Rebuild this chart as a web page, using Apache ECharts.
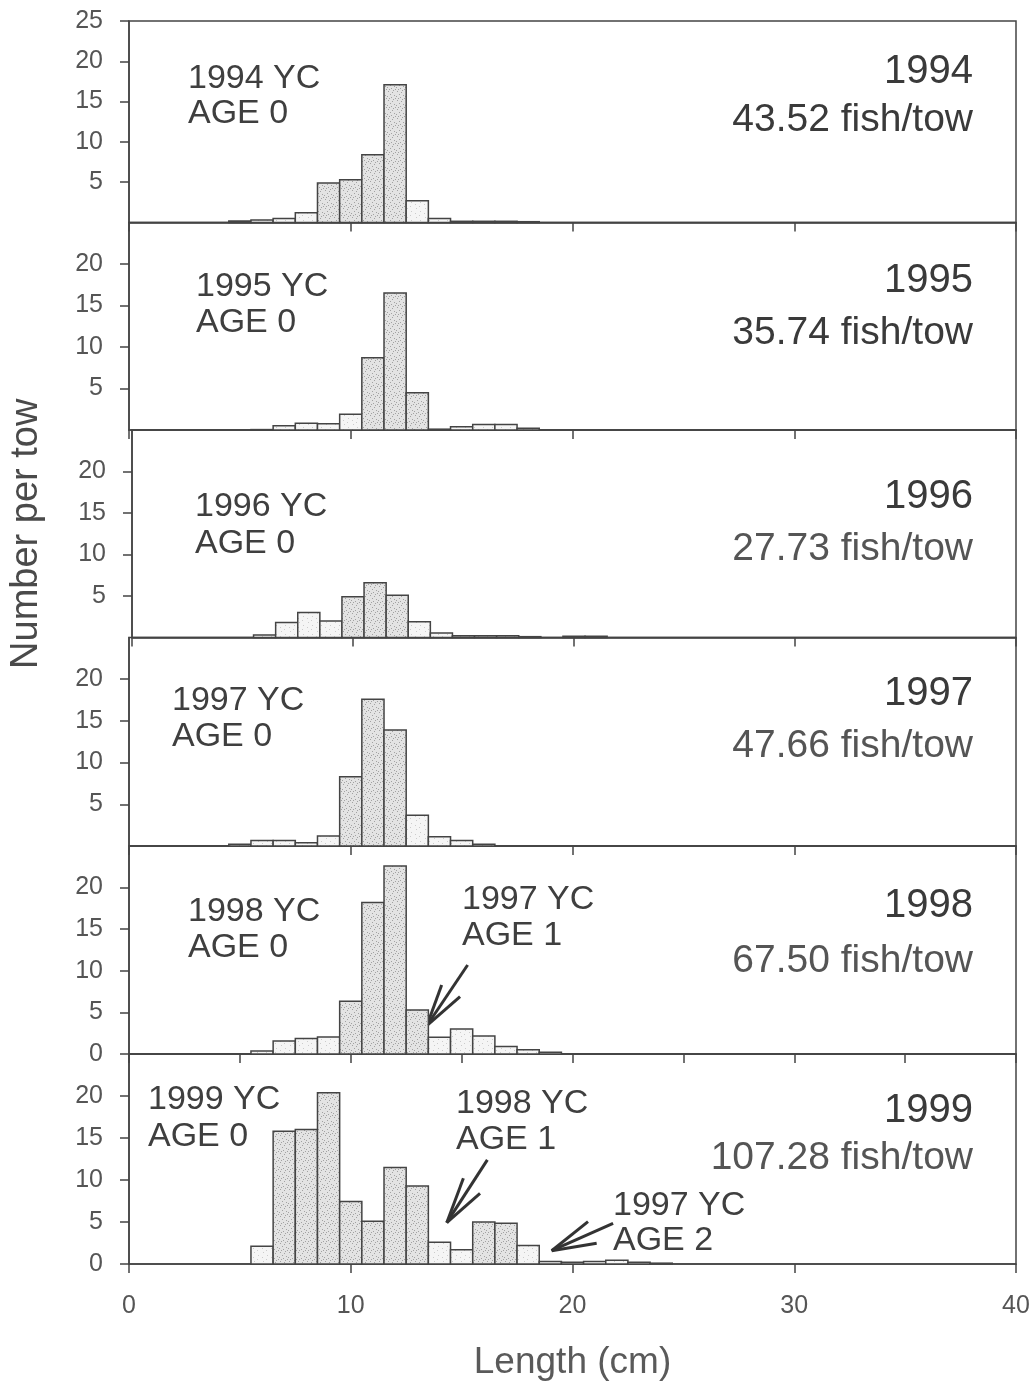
<!DOCTYPE html>
<html><head><meta charset="utf-8">
<script src="https://cdn.jsdelivr.net/npm/echarts@6/dist/echarts.min.js"></script>
<style>html,body{margin:0;padding:0;background:#fff}#c{width:1034px;height:1382px}</style>
</head><body><div id="c"></div>
<script>
// ---------------- DATA ----------------
const lengthBins = [5,6,7,8,9,10,11,12,13,14,15,16,17,18,19,20,21,22,23,24];
const years = ['1994','1995','1996','1997','1998','1999'];
const fishPerTow = ['43.52','35.74','27.73','47.66','67.50','107.28'];
const counts1994 = [0.2,0.3,0.5,1.2,4.9,5.3,8.4,17.1,2.7,0.5,0.15,0.15,0.15,0.1,0,0,0,0,0,0];
const counts1995 = [0,0.05,0.5,0.8,0.75,1.9,8.7,16.5,4.5,0.1,0.4,0.65,0.65,0.2,0,0,0,0,0,0];
const counts1996 = [0,0.3,1.8,3.0,2.0,4.9,6.6,5.1,1.9,0.55,0.2,0.2,0.2,0.1,0,0.15,0.15,0,0,0];
const counts1997 = [0.2,0.65,0.65,0.4,1.2,8.3,17.6,13.9,3.7,1.1,0.65,0.2,0,0,0,0,0,0,0,0];
const counts1998 = [0,0.35,1.55,1.85,2.05,6.35,18.2,22.6,5.3,2.0,3.0,2.15,0.9,0.5,0.2,0,0,0,0,0];
const counts1999 = [0,2.1,15.8,16.0,20.4,7.45,5.1,11.5,9.3,2.6,1.7,5.0,4.85,2.2,0.3,0.2,0.3,0.45,0.2,0.1];
const yTicks1994 = [5,10,15,20,25];
const yTicks1995 = [5,10,15,20];
const yTicks1996 = [5,10,15,20];
const yTicks1997 = [5,10,15,20];
const yTicks1998 = [0,5,10,15,20];
const yTicks1999 = [0,5,10,15,20];
const xTickLabels = [0,10,20,30,40];
const cohortText1994 = ['1994 YC','AGE 0'];
const cohortText1995 = ['1995 YC','AGE 0'];
const cohortText1996 = ['1996 YC','AGE 0'];
const cohortText1997 = ['1997 YC','AGE 0'];
const cohortText1998 = ['1998 YC','AGE 0'];
const cohortText1998b = ['1997 YC','AGE 1'];
const cohortText1999 = ['1999 YC','AGE 0'];
const cohortText1999b = ['1998 YC','AGE 1'];
const cohortText1999c = ['1997 YC','AGE 2'];

// ---------------- LAYOUT / STYLE ----------------
const allCounts = [counts1994,counts1995,counts1996,counts1997,counts1998,counts1999];
const allTicks = [yTicks1994,yTicks1995,yTicks1996,yTicks1997,yTicks1998,yTicks1999];
const tops = [21,222.5,430,637.5,846,1054];
const bottoms = [222.5,430,637.5,846,1054,1264];
const LEFT = 129, WIDTH = 887;
const FONT = '"Liberation Sans", Arial, sans-serif';
const INK = '#3f3f3f';

function makePattern(base, dot, dots) {
  const c = document.createElement('canvas');
  c.width = 9; c.height = 9;
  const g = c.getContext('2d');
  g.fillStyle = base; g.fillRect(0,0,9,9);
  g.fillStyle = dot;
  dots.forEach(function(d){ g.fillRect(d[0], d[1], 1, 1); });
  return {image: c, repeat: 'repeat'};
}
const darkFill = makePattern('#e3e3e3', '#a2a2a2', [[1,1],[5,2],[3,4],[7,5],[0,6],[4,7],[8,8],[6,0],[2,8]]);
const lightFill = makePattern('#f5f5f5', '#cccccc', [[2,1],[6,4],[1,6],[5,8]]);

const chart = echarts.init(document.getElementById('c'), null, {renderer: 'canvas'});

const grids = [], xAxes = [], yAxes = [], series = [];
for (let i = 0; i < 6; i++) {
  grids.push({left: LEFT, width: WIDTH, top: tops[i], height: bottoms[i] - tops[i],
    show: true, borderColor: '#444', borderWidth: 1.5, backgroundColor: 'transparent'});
  const last = i === 5;
  xAxes.push({gridIndex: i, type: 'value', min: 0, max: 40, interval: i === 4 ? 5 : 10,
    axisLine: {show: true, onZero: false, lineStyle: {color: '#444', width: 1.5}},
    axisTick: {show: true, length: 9, lineStyle: {color: '#444', width: 1.5}},
    axisLabel: last ? {show: true, customValues: xTickLabels, fontSize: 25, color: '#555', fontFamily: FONT, margin: 30} : {show: false},
    splitLine: {show: false},
    name: last ? 'Length (cm)' : '', nameLocation: 'middle', nameGap: 80,
    nameTextStyle: {fontSize: 37, color: '#5a5a5a', fontFamily: FONT}
  });
  yAxes.push({gridIndex: i, type: 'value', min: 0, max: 25,
    axisLine: {show: true, lineStyle: {color: '#444', width: 1.5}},
    axisTick: {show: true, length: 9, customValues: allTicks[i], lineStyle: {color: '#444', width: 1.5}},
    axisLabel: {show: true, customValues: allTicks[i], fontSize: 25, color: '#555', fontFamily: FONT, margin: 26},
    splitLine: {show: false},
    name: i === 2 ? 'Number per tow' : '', nameLocation: 'middle', nameGap: 86, nameRotate: 90,
    nameTextStyle: {fontSize: 38, color: '#4a4a4a', fontFamily: FONT}
  });
  const data = lengthBins.map(function(b, j){ return [b, allCounts[i][j]]; });
  series.push({type: 'custom', xAxisIndex: i, yAxisIndex: i, data: data,
    encode: {x: 0, y: 1},
    renderItem: function(params, api) {
      const x = api.value(0), v = api.value(1);
      if (!v) return null;
      const p0 = api.coord([x - 0.5, v]);
      const p1 = api.coord([x + 0.5, 0]);
      return {type: 'rect',
        shape: {x: p0[0], y: p0[1], width: p1[0] - p0[0], height: p1[1] - p0[1]},
        style: {fill: v >= 4 ? darkFill : lightFill, stroke: '#444', lineWidth: 1.5}};
    }
  });
}

chart.setOption({
  animation: false,
  backgroundColor: '#fff',
  grid: grids, xAxis: xAxes, yAxis: yAxes, series: series
});

// ---------------- ANNOTATIONS ----------------
const graphics = [];
function twoLine(lines, left, y1, y2) {
  graphics.push({type: 'text', x: left, y: y1, style: {text: lines[0], font: '34px ' + FONT, fill: INK, textAlign: 'left', textVerticalAlign: 'middle'}});
  graphics.push({type: 'text', x: left, y: y2, style: {text: lines[1], font: '34px ' + FONT, fill: INK, textAlign: 'left', textVerticalAlign: 'middle'}});
}
twoLine(cohortText1994, 188, 79, 114);
twoLine(cohortText1995, 196, 287, 323);
twoLine(cohortText1996, 195, 507, 544);
twoLine(cohortText1997, 172, 701, 737);
twoLine(cohortText1998, 188, 912, 948);
twoLine(cohortText1998b, 462, 900, 936);
twoLine(cohortText1999, 148, 1100, 1137);
twoLine(cohortText1999b, 456, 1104, 1140);
twoLine(cohortText1999c, 613, 1206, 1241);

const yearY = [72, 281, 497, 694, 906, 1111];
const towY = [120, 333, 549, 746, 961, 1158];
for (let i = 0; i < 6; i++) {
  graphics.push({type: 'text', x: 973, y: yearY[i], style: {text: years[i], font: '40px ' + FONT, fill: '#3a3a3a', textAlign: 'right', textVerticalAlign: 'middle'}});
  graphics.push({type: 'text', x: 973, y: towY[i], style: {text: fishPerTow[i] + ' fish/tow', font: '39px ' + FONT, fill: i < 2 ? '#3a3a3a' : '#555', textAlign: 'right', textVerticalAlign: 'middle'}});
}

// arrows given in data coordinates (cm, number per tow)
const arrows = [
  {grid: 4, tip: [13.43, 3.4], tails: [[15.27, 10.7], [14.1, 8.3], [14.93, 6.9]]},
  {grid: 5, tip: [14.33, 4.92], tails: [[16.16, 12.4], [15.08, 10.2], [15.83, 8.4]]},
  {grid: 5, tip: [19.06, 1.58], tails: [[21.83, 4.85], [20.7, 5.04], [21.09, 2.47]]}
];
arrows.forEach(function(a){
  const t = chart.convertToPixel({gridIndex: a.grid}, a.tip);
  a.tails.forEach(function(s){
    const p = chart.convertToPixel({gridIndex: a.grid}, s);
    graphics.push({type: 'line', shape: {x1: p[0], y1: p[1], x2: t[0], y2: t[1]}, style: {stroke: '#333', lineWidth: 3}});
  });
});

chart.setOption({graphic: graphics});
</script>
</body></html>
